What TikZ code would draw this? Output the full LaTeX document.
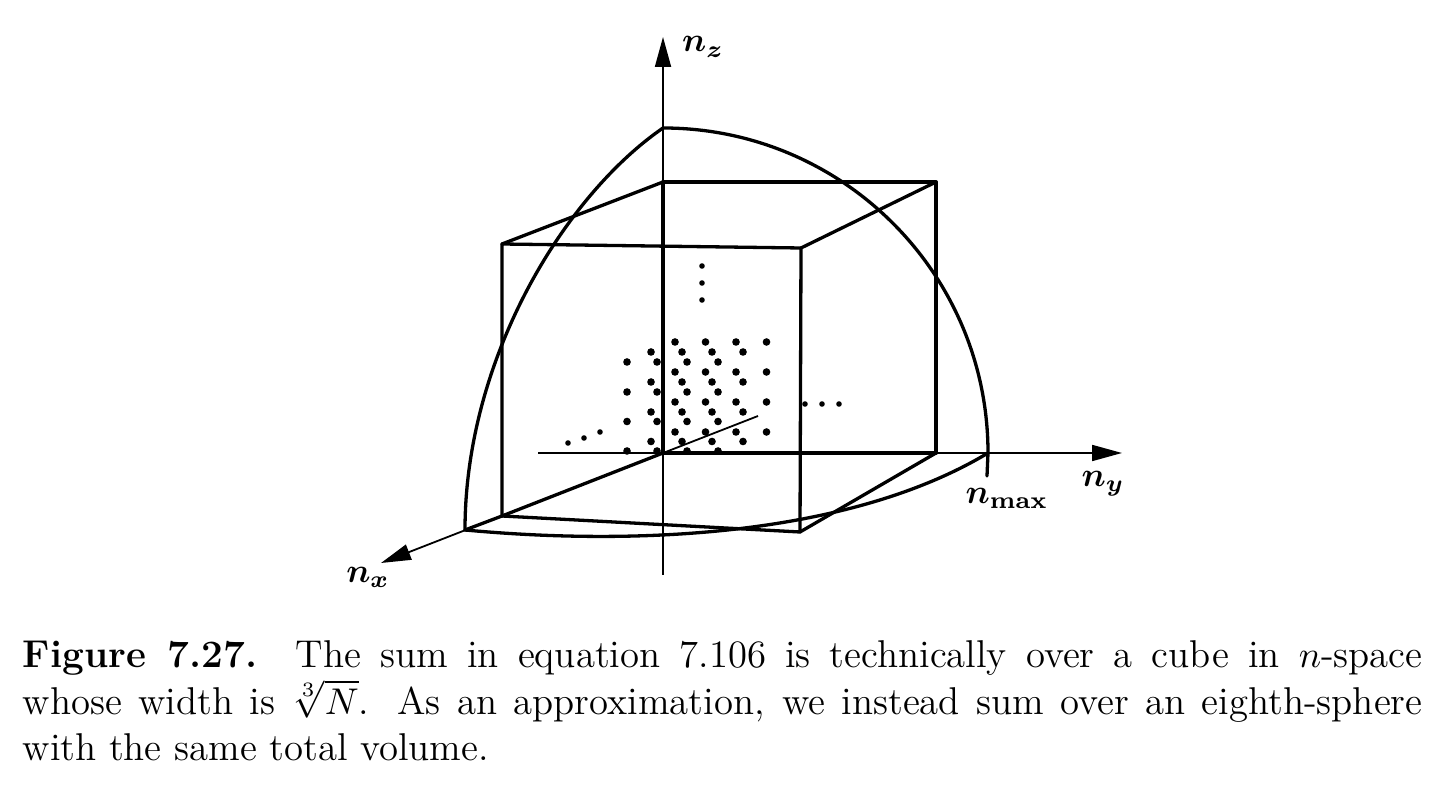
\documentclass[tikz,border=0pt]{standalone}
\usepackage{bm}
\usetikzlibrary{arrows.meta}
\begin{document}
\begin{tikzpicture}[x=0.2941pt,y=-0.2941pt,
  thinax/.style={line width=0.53pt},
  thickln/.style={line width=0.97pt, line join=round, line cap=round},
  arr/.style={-{Triangle[length=8.8pt,width=4.7pt]}},
  lbl/.style={font=\normalsize, inner sep=0pt},
  captext/.style={font=\fontsize{11.4}{13.68}\selectfont, inner sep=0pt, anchor=north west, align=left},
  latdot/.style={fill=black},
]
\useasboundingbox (0,0) rectangle (1447,798);
% axes
\coordinate (O) at (663,453);
\coordinate (zT) at (663,37);
\coordinate (zB) at (663,575);
\coordinate (yL) at (538,453);
\coordinate (yR) at (1122,453);
\coordinate (xF) at (381,563);
\coordinate (xB) at (758,416);
\draw[thinax,arr] (zB) -- (zT);
\draw[thinax,arr] (yL) -- (yR);
\draw[thinax,arr] (xB) -- (xF);
% cube
\coordinate (b1) at (663,182);
\coordinate (b2) at (936,182);
\coordinate (b3) at (936,453);
\coordinate (f1) at (502,244);
\coordinate (f2) at (801,248);
\coordinate (f3) at (800,532);
\coordinate (f4) at (502,516);
\draw[thickln] (O) -- (b1) -- (b2) -- (b3) -- cycle;
\draw[thickln] (f1) -- (f2) -- (f3) -- (f4) -- cycle;
\draw[thickln] (f1) -- (b1);
\draw[thickln] (f2) -- (b2);
\draw[thickln] (f3) -- (b3);
\draw[thickln] (f4) -- (O);
% eighth sphere
\coordinate (sT) at (663,128);
\coordinate (sX) at (465,530);
\coordinate (sY) at (988,453);
\coordinate (sTick) at (987,476);
\draw[thickln] (sT) .. controls (842.5,128) and (988,273.5) .. (sY) -- (sTick);
\draw[thickln] (sX) .. controls (465,360) and (563,197) .. (sT);
\draw[thickln] (sX) .. controls (660,548) and (860,530) .. (sY);
\draw[thickln] (sX) -- (f4);
% lattice points
\foreach \px in {675,705.5,736,766.5} \foreach \py in {342,372,402,432} \fill[latdot] (\px,\py) circle (1.12pt);
\foreach \px in {651,682,712,743} \foreach \py in {352,382,412,441.5} \fill[latdot] (\px,\py) circle (1.12pt);
\foreach \px in {627,657,687,718} \foreach \py in {362,392,421.5,451} \fill[latdot] (\px,\py) circle (1.12pt);
% ellipses
\foreach \py in {266,283,300} \fill[latdot] (702,\py) circle (0.82pt);
\foreach \px in {805,822,839} \fill[latdot] (\px,404) circle (0.82pt);
\fill[latdot] (600,432) circle (0.82pt);
\fill[latdot] (584,438) circle (0.82pt);
\fill[latdot] (568,443) circle (0.82pt);
% labels
\node[lbl] (lz) at (703,47) {$\bm{n_z}$};
\node[lbl] (ly) at (1103,484) {$\bm{n_y}$};
\node[lbl] (lmax) at (1007,498) {$\bm{n}_{\mathbf{max}}$};
\node[lbl] (lx) at (368,577) {$\bm{n_x}$};
% caption
\node[captext] (cap) at (22,640.1) {\makebox[411.7pt][s]{\textbf{Figure\ 7.27.}\ \ The sum in equation 7.106 is technically over a cube in $n$-space}\\
\makebox[411.7pt][s]{whose width is $\smash{\sqrt[3]{N}}$. As an approximation, we instead sum over an eighth-sphere}\\
with the same total volume.};
\end{tikzpicture}
\end{document}
